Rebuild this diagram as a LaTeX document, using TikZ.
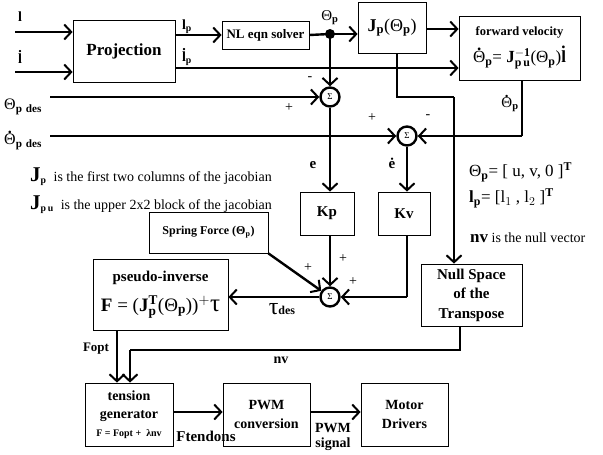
\documentclass[tikz,border=0pt]{standalone}
\usepackage{fontspec}
\setmainfont{Liberation Serif}
\usetikzlibrary{arrows.meta}
\newcommand{\fsz}[1]{\fontsize{#1}{1.3\dimexpr#1pt\relax}\selectfont}
\newcommand{\pb}{$_{\mathbf{p}}$}
% a bold dot set over a letter
\newcommand{\dt}[2][0.7em]{\ooalign{#2\cr\hidewidth\raisebox{#1}{\textbf{.}}\hidewidth\cr}}
\begin{document}
\begin{tikzpicture}[x=1pt, y=-1pt,
  block/.style={draw, line width=0.8pt, align=center, inner sep=1pt, font=\bfseries},
  sum/.style={draw, circle, line width=2.4pt, minimum size=19pt, inner sep=0pt, font=\fsz{9}},
  flow/.style={draw, line width=2.4pt, -{Straight Barb[length=7pt,width=15pt,line width=2pt]}},
  wire/.style={draw, line width=2.4pt},
  lbl/.style={inner sep=0pt, font=\bfseries\fsz{14}},
  note/.style={inner sep=0pt, anchor=west, font=\fsz{14}}
]
\useasboundingbox (0,0) rectangle (603,455);
% Define the nodes
\node[block, minimum width=102, minimum height=62, font=\bfseries\fsz{17}] (proj) at (124,51) {Projection};
\node[block, minimum width=87, minimum height=28, font=\bfseries\fsz{13}] (solver) at (265.5,35) {NL eqn solver};
\node[block, minimum width=68, minimum height=51, font=\fsz{18}] (jac) at (392,27.5) {\textbf{J}\pb(Θ\pb)};
\node[block, minimum width=121, minimum height=64, font=\fsz{12.5}] (fwd) at (519.5,48)
  {\textbf{forward velocity}\\[9pt]{\fsz{17}\dt{Θ}\pb= \textbf{J}$^{\mathbf{-1}}_{\mathbf{p\,u}}$(Θ\pb)\textbf{\dt[0.82em]{l}}}};
\node[sum] (sumA) at (330,97) {Σ};
\node[sum] (sumB) at (407,136) {Σ};
\node[block, minimum width=54, minimum height=43, font=\bfseries\fsz{15}] (kp) at (327,213.5) {Kp};
\node[block, minimum width=52, minimum height=43, font=\bfseries\fsz{15}] (kv) at (404,213.5) {Kv};
\node[block, minimum width=119, minimum height=41, font=\bfseries\fsz{12}] (spring) at (208.5,232.5) {Spring Force (Θ\pb)};
\node[sum] (sumC) at (330,297) {Σ};
\node[block, minimum width=135, minimum height=71, font=\fsz{19}] (pinv) at (160.5,294.5)
  {{\bfseries\fsz{15}pseudo-inverse}\\[5pt]\textbf{F} = (\textbf{J}$^{\mathbf{T}}_{\mathbf{p}}$(Θ\pb))$^{+}${\fsz{25}τ}};
\node[block, minimum width=101, minimum height=62, font=\bfseries\fsz{15}] (nullsp) at (471.5,295) {Null Space\\of the\\Transpose};
\node[block, minimum width=88, minimum height=63, font=\bfseries\fsz{14}] (tension) at (129,414.5)
  {tension\\generator\\{\fsz{10}F = Fopt + \ λnv}};
\node[block, minimum width=87, minimum height=63, font=\bfseries\fsz{14}] (pwm) at (266.5,414.5) {PWM\\conversion};
\node[block, minimum width=87, minimum height=63, font=\bfseries\fsz{14}] (motor) at (404.5,414.5) {Motor\\Drivers};
% Define the free ends and corners
\coordinate (lin) at (15,32);
\coordinate (ldin) at (15,72);
\coordinate (thd) at (330,34);
\coordinate (thdes) at (50,97);
\coordinate (thddes) at (50,136);
\coordinate (jcorner) at (397,97);
\coordinate (ncorner) at (454,97);
\coordinate (fcorner) at (522,136);
\coordinate (vcorner) at (407,297);
\coordinate (nvright) at (460,350);
\coordinate (nvleft) at (130,350);
\fill (thd) circle (5pt);
% Define the edges
\path[flow] (lin) -- (lin -| proj.west);
\path[flow] (ldin) -- (ldin -| proj.west);
\path[flow] (proj.east |- solver) -- (solver.west);
\path[flow] (proj.east |- 0,68) -- (fwd.west |- 0,68);
\path[wire] (solver.east) -- (thd);
\path[flow] (thd) -- (jac.west |- thd);
\path[flow] (thd) -- (sumA.north);
\path[flow] (jac.east |- 0,29) -- (fwd.west |- 0,29);
\path[wire] (jac.south -| jcorner) -- (jcorner) -- (ncorner);
\path[flow] (ncorner) -- (ncorner |- nullsp.north);
\path[wire] (fwd.south -| fcorner) -- (fcorner);
\path[flow] (fcorner) -- (sumB.east);
\path[flow] (thdes) -- (sumA.west);
\path[flow] (thddes) -- (sumB.west);
\path[flow] (sumA.south) -- (sumA |- kp.north);
\path[flow] (sumB.south) -- (sumB |- kv.north);
\path[flow] (sumC |- kp.south) -- (sumC.north);
\path[wire] (vcorner |- kv.south) -- (vcorner);
\path[flow] (vcorner) -- (sumC.east);
\path[flow] (spring.south east) -- (sumC);
\path[flow] (sumC.west) -- (pinv.east |- sumC);
\path[flow] (pinv.south -| 117,0) -- (tension.north -| 117,0);
\path[wire] (nullsp.south -| nvright) -- (nvright) -- (nvleft);
\path[flow] (nvleft) -- (nvleft |- tension.north);
\path[flow] (tension.east |- 0,412) -- (pwm.west |- 0,412);
\path[flow] (pwm.east |- 0,412) -- (motor.west |- 0,412);
% Signal labels
\node[lbl] (l) at (20,17) {l};
\node[lbl] (ld) at (20,59) {\dt[0.82em]{l}};
\node[lbl] (lp) at (187,27) {l\pb};
\node[lbl] (ldp) at (187,59) {\dt[0.82em]{l}\pb};
\node[lbl, font=\fsz{15}] (thp) at (330,18) {Θ\pb};
\node[lbl, anchor=west, font=\fsz{16}] (thpdes) at (4,107) {Θ$_{\mathbf{p\ des}}$};
\node[lbl, anchor=west, font=\fsz{16}] (thdpdes) at (4,142) {\dt{Θ}$_{\mathbf{p\ des}}$};
\node[lbl, font=\fsz{15}] (thdp) at (510,105) {\dt{Θ}\pb};
\node[lbl, font=\bfseries\fsz{15}] (e) at (313,165) {e};
\node[lbl, font=\bfseries\fsz{15}] (ed) at (392,163) {\.e};
\node[lbl, font=\fsz{24}] (tau) at (282,309) {τ{\fsz{12}\bfseries des}};
\node[lbl, font=\bfseries\fsz{13}] (fopt) at (96,349) {Fopt};
\node[lbl, font=\bfseries\fsz{14}] (nv) at (281,360) {nv};
\node[lbl, font=\bfseries\fsz{15}] (ften) at (206,436) {Ftendons};
\node[lbl, font=\bfseries\fsz{14}, align=center] (pwmsig) at (333,437) {PWM\\[-4pt]signal};
% Signs at the junctions
\node[lbl, font=\fsz{14}] at (310,79) {-};
\node[lbl, font=\fsz{14}] at (289,108) {+};
\node[lbl, font=\fsz{14}] at (372,118) {+};
\node[lbl, font=\fsz{14}] at (428,117) {-};
\node[lbl, font=\fsz{14}] at (308,268) {+};
\node[lbl, font=\fsz{14}] at (343,259) {+};
\node[lbl, font=\fsz{14}] at (353,282) {+};
% Notes
\node[note] (nja) at (30,177) {{\bfseries\fsz{21}J}$_{\mathbf{p}}$\ \ is the first two columns of the jacobian};
\node[note] (njb) at (30,205) {{\bfseries\fsz{21}J}$_{\mathbf{p\,u}}$\ \ is the upper 2x2 block of the jacobian};
\node[note, font=\fsz{17}] (nth) at (469,172) {Θ\pb = [ u, v, 0 ]$^{\mathbf{T}}$};
\node[note, font=\fsz{17}] (nlp) at (469,198) {\textbf{l}\pb= [l$_1$ , l$_2$ ]$^{\mathbf{T}}$};
\node[note, font=\fsz{14}] (nnv) at (470,238) {{\bfseries\fsz{17}nv} is the null vector};
\end{tikzpicture}
\end{document}
